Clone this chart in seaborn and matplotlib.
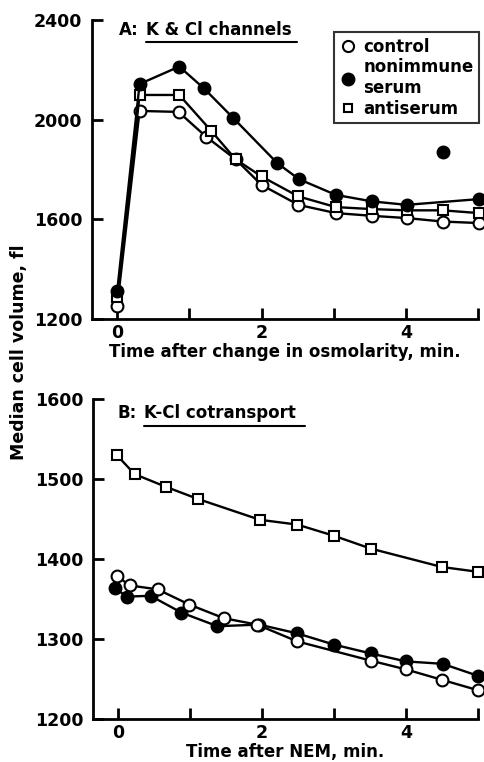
import numpy as np
import pandas as pd
import matplotlib
matplotlib.use("Agg")
import matplotlib.pyplot as plt
from matplotlib.lines import Line2D
import seaborn as sns

sns.set_style("ticks", rc={'axes.edgecolor': 'black', 'text.color': 'black',
                           'axes.labelcolor': 'black', 'xtick.color': 'black',
                           'ytick.color': 'black'})
plt.rcParams['font.family'] = ['DejaVu Sans']
plt.rcParams['font.weight'] = 'bold'

# panel A: K & Cl channels
a_ctrl_t = [0, 0.31, 0.85, 1.23, 1.64, 2.0, 2.51, 3.03, 3.53, 4.01, 4.51, 5.01]
a_ctrl_v = [1253, 2035, 2031, 1932, 1841, 1738, 1658, 1625, 1614, 1605, 1591, 1585]
a_non_t = [0, 0.31, 0.86, 1.2, 1.61, 2.22, 2.52, 3.03, 3.53, 4.01, 4.51, 5.01]
a_non_v = [1313, 2143, 2213, 2126, 2006, 1825, 1761, 1698, 1672, 1658, 1869, 1681]
a_non_outlier = [False, False, False, False, False, False, False, False, False, False, True, False]
a_anti_t = [0, 0.31, 0.86, 1.3, 1.64, 2.0, 2.51, 3.03, 3.53, 4.01, 4.51, 5.01]
a_anti_v = [1287, 2099, 2099, 1956, 1841, 1772, 1692, 1649, 1641, 1636, 1636, 1625]

# panel B: K-Cl cotransport
b_anti_t = [-0.02, 0.23, 0.67, 1.11, 1.97, 2.49, 3.0, 3.51, 4.5, 5.0]
b_anti_v = [1530, 1506, 1490, 1475, 1449, 1443, 1429, 1413, 1390, 1384]
b_ctrl_t = [-0.02, 0.16, 0.55, 0.99, 1.47, 1.93, 2.49, 3.51, 4.0, 4.5, 5.0]
b_ctrl_v = [1379, 1367, 1362, 1343, 1326, 1318, 1297, 1273, 1262, 1249, 1236]
b_non_t = [-0.05, 0.12, 0.45, 0.88, 1.38, 1.96, 2.49, 3.0, 3.51, 4.0, 4.51, 5.0]
b_non_v = [1364, 1353, 1354, 1333, 1316, 1318, 1307, 1293, 1282, 1272, 1269, 1254]

styles = {
    'control': dict(marker='o', markerfacecolor='white'),
    'nonimmune': dict(marker='o', markerfacecolor='black'),
    'antiserum': dict(marker='s', markerfacecolor='white'),
}
msize = {'o': 8.5, 's': 7.5}


def draw(ax, t, v, kind, skip=None):
    st = styles[kind]
    df = pd.DataFrame({'t': t, 'v': v})
    line_df = df if skip is None else df[~np.array(skip)]
    sns.lineplot(data=line_df, x='t', y='v', ax=ax, color='black', linewidth=1.7,
                 marker=st['marker'], markerfacecolor=st['markerfacecolor'],
                 markeredgecolor='black', markeredgewidth=1.5,
                 markersize=msize[st['marker']], clip_on=False, zorder=3)
    if skip is not None:
        extra = df[np.array(skip)]
        ax.plot(extra['t'], extra['v'], linestyle='none', marker=st['marker'],
                markerfacecolor=st['markerfacecolor'], markeredgecolor='black',
                markeredgewidth=1.5, markersize=msize[st['marker']], zorder=3)


def style_axes(ax, yticks, xlabel):
    sns.despine(ax=ax)
    ax.spines['left'].set_linewidth(2)
    ax.spines['bottom'].set_linewidth(2)
    ax.set_xlim(-0.35, 5.0)
    ax.set_xticks([0, 2, 4])
    ax.set_xticks([1, 3, 5], minor=True)
    ax.set_yticks(yticks)
    ax.set_ylim(yticks[0], yticks[-1])
    ax.tick_params(axis='both', which='both', direction='in', length=8, width=2,
                   labelsize=12.5)
    ax.tick_params(axis='y', pad=7)
    ax.set_xlabel(xlabel, fontsize=12, fontweight='bold', labelpad=1)
    ax.set_ylabel('')
    for lab in ax.get_xticklabels() + ax.get_yticklabels():
        lab.set_fontweight('bold')


fig = plt.figure(figsize=(4.84, 7.62), dpi=100)
ax1 = fig.add_axes([0.190, 0.5814, 0.7975, 0.3924])
ax2 = fig.add_axes([0.192, 0.0564, 0.7955, 0.42])

draw(ax1, a_ctrl_t, a_ctrl_v, 'control')
draw(ax1, a_anti_t, a_anti_v, 'antiserum')
draw(ax1, a_non_t, a_non_v, 'nonimmune', skip=a_non_outlier)
style_axes(ax1, [1200, 1600, 2000, 2400], 'Time after change in osmolarity, min.')

draw(ax2, b_anti_t, b_anti_v, 'antiserum')
draw(ax2, b_non_t, b_non_v, 'nonimmune')
draw(ax2, b_ctrl_t, b_ctrl_v, 'control')
style_axes(ax2, [1200, 1300, 1400, 1500, 1600], 'Time after NEM, min.')

# panel titles with underlined part
ax1.text(0.07, 0.966, 'A:', transform=ax1.transAxes, fontsize=12, fontweight='bold', va='center')
ax1.text(0.14, 0.966, 'K & Cl channels', transform=ax1.transAxes, fontsize=12, fontweight='bold', va='center')
ax1.plot([0.14, 0.53], [0.925, 0.925], transform=ax1.transAxes, color='black', lw=1.5, clip_on=False)
ax2.text(0.065, 0.957, 'B:', transform=ax2.transAxes, fontsize=12, fontweight='bold', va='center')
ax2.text(0.133, 0.957, 'K-Cl cotransport', transform=ax2.transAxes, fontsize=12, fontweight='bold', va='center')
ax2.plot([0.133, 0.55], [0.917, 0.917], transform=ax2.transAxes, color='black', lw=1.5, clip_on=False)

handles = [
    Line2D([], [], linestyle='none', marker='o', markerfacecolor='white', markeredgecolor='black', markeredgewidth=1.5, markersize=8),
    Line2D([], [], linestyle='none', marker='o', markerfacecolor='black', markeredgecolor='black', markersize=9),
    Line2D([], [], linestyle='none', marker='s', markerfacecolor='white', markeredgecolor='black', markeredgewidth=1.5, markersize=6),
]
leg = ax1.legend(handles, ['control', 'nonimmune\nserum', 'antiserum'], loc='upper left',
                 bbox_to_anchor=(0.627, 0.96), frameon=True, fancybox=False,
                 handletextpad=0.4, handlelength=1.0, borderpad=0.35, labelspacing=0.15,
                 borderaxespad=0, prop={'weight': 'bold', 'size': 12})
leg.get_frame().set_edgecolor('black')
leg.get_frame().set_linewidth(1.5)

fig.text(0.04, 0.538, 'Median cell volume, fl', rotation=90, va='center', ha='center',
         fontsize=12.5, fontweight='bold')

fig.savefig('out.png', dpi=100)
